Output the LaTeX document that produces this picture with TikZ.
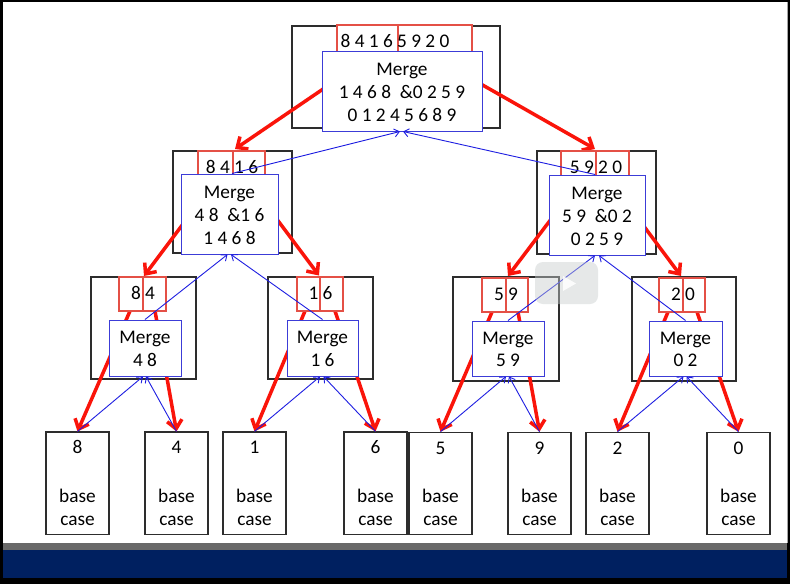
\documentclass[tikz,border=0pt]{standalone}
\usepackage{fontspec}
\setmainfont{Carlito}
\usetikzlibrary{arrows.meta}
\definecolor{navy}{RGB}{0,32,96}
\definecolor{bandgray}{RGB}{105,105,105}
\definecolor{outercol}{RGB}{45,45,45}
\definecolor{redboxcol}{RGB}{228,80,70}
\definecolor{redline}{RGB}{250,20,10}
\definecolor{blueboxcol}{RGB}{60,60,215}
\definecolor{blueline}{RGB}{30,30,225}
\definecolor{wmgray}{RGB}{200,206,206}
\begin{document}
\begin{tikzpicture}[x=1pt,y=-1pt,
  outerbox/.style={draw=outercol, fill=white, line width=1.2pt, inner sep=0pt},
  redbox/.style={draw=redboxcol, fill=white, line width=1.3pt, inner sep=0pt},
  mergebox/.style={draw=blueboxcol, fill=white, line width=1pt, inner sep=0pt},
  basebox/.style={draw=outercol, fill=white, line width=1.1pt, inner sep=0pt,
    minimum width=63pt, minimum height=102.5pt},
  txt/.style={inner sep=0pt, anchor=base, font=\fontsize{19.3}{23}\selectfont},
  splitarrow/.style={draw=redline, line width=3.5pt, -{Straight Barb[length=8.5pt,width=15pt]}},
  mergearrow/.style={draw=blueline, line width=0.9pt, -{Straight Barb[length=5pt,width=8pt]}},
]
\useasboundingbox (0,0) rectangle (790,584);
% slide frame
\fill[black] (0,0) rectangle (790,584);
\fill[white] (3,2) rectangle (787,543);
\fill[bandgray] (3,543) rectangle (787,550);
\fill[navy] (3,550) rectangle (787,578);
\draw[gray!70, line width=1pt] (787.5,2) -- (787.5,543);

% outer boxes
\node[outerbox, minimum width=208pt, minimum height=102pt] (rootO) at (396,77) {};
\node[outerbox, minimum width=119pt, minimum height=102pt] (lO) at (232.5,202) {};
\node[outerbox, minimum width=119pt, minimum height=103pt] (rO) at (596.5,202.5) {};
\node[outerbox, minimum width=105pt, minimum height=102pt] (aO) at (143.5,328) {};
\node[outerbox, minimum width=105pt, minimum height=102pt] (bO) at (320.5,328) {};
\node[outerbox, minimum width=106pt, minimum height=104pt] (cO) at (506,329) {};
\node[outerbox, minimum width=104pt, minimum height=104pt] (dO) at (684,329) {};

% base case boxes
\node[basebox] (b8) at (77.5,483.25) {};
\node[basebox] (b4) at (176.5,483.25) {};
\node[basebox] (b1) at (254.5,483.25) {};
\node[basebox] (b6) at (375.5,483.25) {};
\node[basebox] (b5) at (440.5,483.5) {};
\node[basebox] (b9) at (539.5,483.5) {};
\node[basebox] (b2) at (617.5,483.5) {};
\node[basebox] (b0) at (738.5,483.5) {};

% split arrow coordinates
\coordinate (rootS1) at (338.7,78.4);
\coordinate (rootS2) at (465,75);
\coordinate (lTip) at (235,149);
\coordinate (rTip) at (595,149);
\coordinate (lS1) at (190.5,214);
\coordinate (lS2) at (267,206);
\coordinate (rS1) at (561,206);
\coordinate (rS2) at (634,213);
\coordinate (aTip) at (144,276);
\coordinate (bTip) at (319,275.5);
\coordinate (cTip) at (508,276);
\coordinate (dTip) at (681,276);
\coordinate (aS1) at (130,311);
\coordinate (aS2) at (155,311);
\coordinate (bS1) at (305,311);
\coordinate (bS2) at (335,311);
\coordinate (cS1) at (492,312);
\coordinate (cS2) at (518,312);
\coordinate (dS1) at (668,312);
\coordinate (dS2) at (697,312);

% split arrows (red)
\draw[splitarrow] (rootS1) -- (lTip);
\draw[splitarrow] (rootS2) -- (rTip);
\draw[splitarrow] (lS1) -- (aTip);
\draw[splitarrow] (lS2) -- (bTip);
\draw[splitarrow] (rS1) -- (cTip);
\draw[splitarrow] (rS2) -- (dTip);
\draw[splitarrow] (aS1) -- (b8.north);
\draw[splitarrow] (aS2) -- (b4.north);
\draw[splitarrow] (bS1) -- (b1.north);
\draw[splitarrow] (bS2) -- (b6.north);
\draw[splitarrow] (cS1) -- (b5.north);
\draw[splitarrow] (cS2) -- (b9.north);
\draw[splitarrow] (dS1) -- (b2.north);
\draw[splitarrow] (dS2) -- (b0.north);

% red split boxes
\node[redbox, minimum width=61pt, minimum height=35pt] (rootR1) at (367.5,42.5) {};
\node[redbox, minimum width=74pt, minimum height=35pt] (rootR2) at (435,42.5) {};
\node[redbox, minimum width=35pt, minimum height=34pt] (lR1) at (215.5,168) {};
\node[redbox, minimum width=32pt, minimum height=34pt] (lR2) at (249,168) {};
\node[redbox, minimum width=35pt, minimum height=34pt] (rR1) at (578.5,168) {};
\node[redbox, minimum width=33pt, minimum height=34pt] (rR2) at (612.5,168) {};
\node[redbox, minimum width=24pt, minimum height=34pt] (aR1) at (131,294) {};
\node[redbox, minimum width=23pt, minimum height=34pt] (aR2) at (154.5,294) {};
\node[redbox, minimum width=23pt, minimum height=34pt] (bR1) at (308.5,294) {};
\node[redbox, minimum width=23pt, minimum height=34pt] (bR2) at (331.5,294) {};
\node[redbox, minimum width=24pt, minimum height=34pt] (cR1) at (494,295) {};
\node[redbox, minimum width=22pt, minimum height=34pt] (cR2) at (517,295) {};
\node[redbox, minimum width=24pt, minimum height=34pt] (dR1) at (671,295) {};
\node[redbox, minimum width=22pt, minimum height=34pt] (dR2) at (694,295) {};

\node[txt] (rootSplit) at (395,47.5) {8 4 1 6 5 9 2 0};
\node[txt] (lSplit) at (232,173) {8 4 1 6};
\node[txt] (rSplit) at (596,173.5) {5 9 2 0};
\node[txt] (aSplit) at (143,299.5) {8 4};
\node[txt] (bSplit) at (320.5,299.5) {1 6};
\node[txt] (cSplit) at (506,300.5) {5 9};
\node[txt] (dSplit) at (683,300.5) {2 0};

% merge boxes (blue)
\node[mergebox, minimum width=160pt, minimum height=80pt] (rootM) at (402,91) {};
\node[mergebox, minimum width=97pt, minimum height=80pt] (lM) at (229.5,214) {};
\node[mergebox, minimum width=96pt, minimum height=80pt] (rM) at (597,215) {};
\node[mergebox, minimum width=72pt, minimum height=56pt] (aM) at (145,348) {};
\node[mergebox, minimum width=71pt, minimum height=56pt] (bM) at (322.5,348) {};
\node[mergebox, minimum width=72pt, minimum height=55pt] (cM) at (508,348.5) {};
\node[mergebox, minimum width=73pt, minimum height=55pt] (dM) at (685.5,348.5) {};

\node[txt] (rootT1) at (402,75) {Merge};
\node[txt] (rootT2) at (402,98.5) {1 4 6 8\ \ \&0 2 5 9};
\node[txt] (rootT3) at (402,121) {0 1 2 4 5 6 8 9};
\node[txt] (lT1) at (229.5,198.5) {Merge};
\node[txt] (lT2) at (229.5,221.5) {4 8\ \ \&1 6};
\node[txt] (lT3) at (229.5,244.5) {1 4 6 8};
\node[txt] (rT1) at (597,199) {Merge};
\node[txt] (rT2) at (597,222.5) {5 9\ \ \&0 2};
\node[txt] (rT3) at (597,245.5) {0 2 5 9};
\node[txt] (aT1) at (145,343.5) {Merge};
\node[txt] (aT2) at (145,366) {4 8};
\node[txt] (bT1) at (322.5,343.5) {Merge};
\node[txt] (bT2) at (322.5,366) {1 6};
\node[txt] (cT1) at (508,344) {Merge};
\node[txt] (cT2) at (508,366.5) {5 9};
\node[txt] (dT1) at (685.5,344) {Merge};
\node[txt] (dT2) at (685.5,366.5) {0 2};

% merge arrows (blue)
\draw[mergearrow] ([xshift=2.5pt]lM.north) -- ([xshift=-2pt]rootM.south);
\draw[mergearrow] ([xshift=-2pt]rM.north) -- ([xshift=1pt]rootM.south);
\draw[mergearrow] (aM.north) -- ([xshift=-2pt]lM.south);
\draw[mergearrow] (bM.north) -- ([xshift=1.5pt]lM.south);
\draw[mergearrow] (cM.north) -- ([xshift=-2pt]rM.south);
\draw[mergearrow] (dM.north) -- ([xshift=2pt]rM.south);
\draw[mergearrow] (b8.north) -- ([xshift=-2pt]aM.south);
\draw[mergearrow] (b4.north) -- ([xshift=1pt]aM.south);
\draw[mergearrow] (b1.north) -- ([xshift=-2.5pt]bM.south);
\draw[mergearrow] (b6.north) -- ([xshift=1pt]bM.south);
\draw[mergearrow] (b5.north) -- ([xshift=-2pt]cM.south);
\draw[mergearrow] (b9.north) -- ([xshift=1pt]cM.south);
\draw[mergearrow] (b2.north) -- ([xshift=-2pt]dM.south);
\draw[mergearrow] (b0.north) -- ([xshift=1pt]dM.south);

% base case texts
\foreach \n/\d in {b8/8,b4/4,b1/1,b6/6,b5/5,b9/9,b2/2,b0/0}{
  \node[txt] (\n-num) at ([yshift=-22.5pt]\n.north) {\d};
  \node[txt] (\n-base) at ([yshift=-71pt]\n.north) {base};
  \node[txt] (\n-case) at ([yshift=-94pt]\n.north) {case};
}

% video watermark
\fill[wmgray, opacity=0.45, rounded corners=8pt] (535,262) rectangle (598,304);
\fill[white, opacity=0.85] (563,276) -- (576,283.5) -- (563,291) -- cycle;
\end{tikzpicture}
\end{document}
